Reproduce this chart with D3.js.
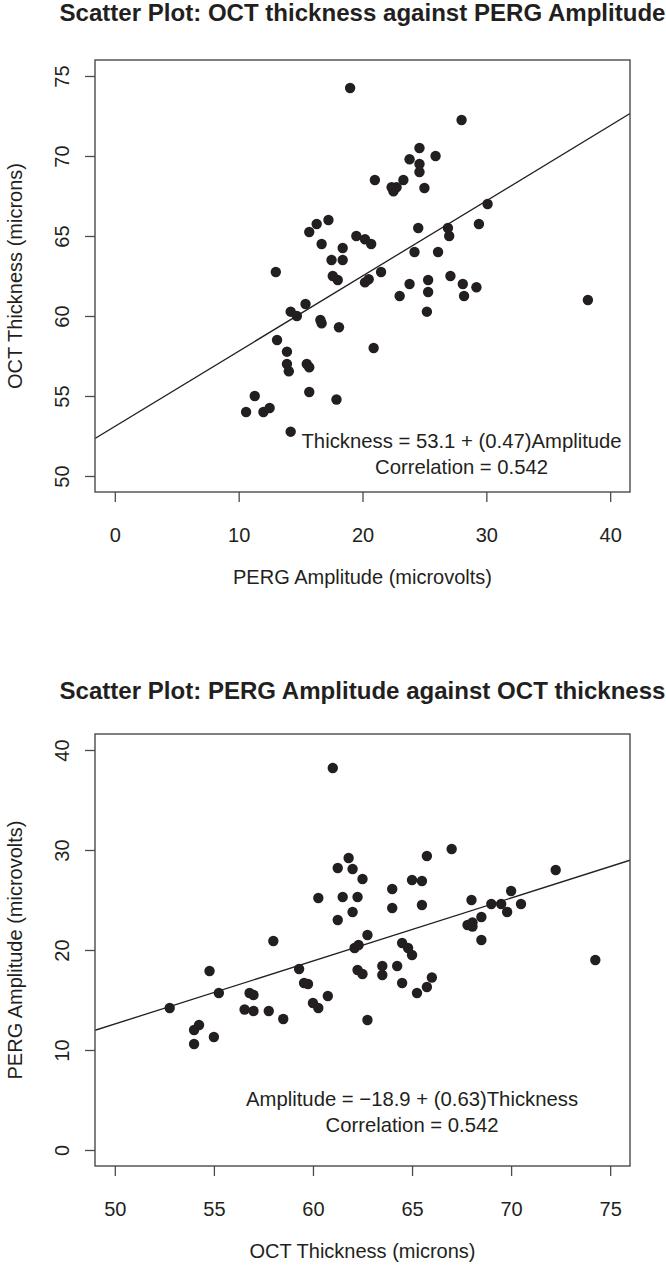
<!DOCTYPE html>
<html><head><meta charset="utf-8">
<script src="https://cdn.jsdelivr.net/npm/d3@7"></script>
<style>
body{margin:0;background:#fff}
svg{display:block}
text{font-family:"Liberation Sans",Arial,Helvetica,sans-serif;fill:#231f20}
</style>
</head><body>
<script>
// ---- data (PERG amplitude in microvolts, OCT thickness in microns), one entry per eye ----
const amplitude = [19.0,17.25,16.3,15.7,19.5,20.2,16.7,18.4,17.5,18.4,13.0,17.6,18.0,
  28.0,24.6,23.8,25.9,24.6,24.6,21.0,23.3,22.5,22.75,22.35,25.0,30.1,24.5,26.9,27.0,29.4,
  20.7,24.2,26.1,21.5,20.2,20.5,23.8,23.0,25.3,25.3,25.2,27.1,28.1,29.2,28.2,38.2,20.9,
  15.4,14.2,14.7,16.6,16.7,18.1,13.1,13.9,13.9,14.05,15.5,15.7,15.7,17.9,11.3,10.6,12.0,12.5,14.2];
const thickness = [74.25,66.0,65.75,65.25,65.0,64.8,64.5,64.25,63.5,63.5,62.75,62.5,62.25,
  72.25,70.5,69.8,70.0,69.5,69.0,68.5,68.5,67.8,68.05,68.05,68.0,67.0,65.5,65.5,65.0,65.75,
  64.5,64.0,64.0,62.75,62.1,62.3,62.0,61.25,62.25,61.5,60.27,62.5,62.0,61.8,61.25,61.0,58.0,
  60.75,60.27,60.0,59.75,59.55,59.3,58.5,57.77,57.0,56.55,57.0,56.8,55.25,54.78,55.0,54.0,54.0,54.25,52.77];

const ampTicks = [0,10,20,30,40];
const thickTicks = [50,55,60,65,70,75];
const ampLimits = [0,40];
const thickLimits = [50,75];

const fitThickOnAmp = {intercept:53.1, slope:0.47};
const fitAmpOnThick = {intercept:-18.9, slope:0.63};

const titles = ["Scatter Plot: OCT thickness against PERG Amplitude",
                "Scatter Plot: PERG Amplitude against OCT thickness"];
const ampLabel = "PERG Amplitude (microvolts)";
const thickLabel = "OCT Thickness (microns)";
const notesTop = ["Thickness = 53.1 + (0.47)Amplitude","Correlation = 0.542"];
const notesBottom = ["Amplitude = \u221218.9 + (0.63)Thickness","Correlation = 0.542"];

// ---- layout ----
const W = 666, H = 1265;
const svg = d3.select("body").append("svg").attr("width",W).attr("height",H);
const left = 95, right = 630, plotH = 432;
const ink = "#231f20", frame = "#4a4a4a";

function usr(lim){const d=(lim[1]-lim[0])*0.04;return [lim[0]-d,lim[1]+d];}

function panel(o){
  const g = svg.append("g");
  const top = o.top, bottom = o.top+plotH;
  const x = d3.scaleLinear().domain(usr(o.xlim)).range([left,right]);
  const y = d3.scaleLinear().domain(usr(o.ylim)).range([bottom,top]);
  const cid = "clip"+o.id;
  g.append("clipPath").attr("id",cid).append("rect")
    .attr("x",left).attr("y",top).attr("width",right-left).attr("height",plotH);

  // title
  g.append("text").attr("x",(left+right)/2).attr("y",o.titleY)
    .attr("text-anchor","middle").attr("font-weight","bold").attr("font-size",24)
    .attr("textLength",606).attr("lengthAdjust","spacingAndGlyphs").text(o.title);

  // axes
  const ax = g.append("g").attr("transform",`translate(0,${bottom})`)
    .call(d3.axisBottom(x).tickValues(o.xticks).tickSize(10).tickSizeOuter(0));
  ax.select(".domain").remove();
  ax.selectAll("line").attr("stroke",frame).attr("stroke-width",1.3);
  ax.selectAll("text").attr("y",50).attr("dy",0).attr("font-size",20).attr("fill",ink)
    .attr("font-family","Liberation Sans, Arial, sans-serif");

  const ay = g.append("g").attr("transform",`translate(${left},0)`)
    .call(d3.axisLeft(y).tickValues(o.yticks).tickSize(10).tickSizeOuter(0));
  ay.select(".domain").remove();
  ay.selectAll("line").attr("stroke",frame).attr("stroke-width",1.3);
  ay.selectAll("text").attr("transform","rotate(-90)").attr("x",0).attr("y",-26).attr("dy",0)
    .attr("text-anchor","middle").attr("font-size",20).attr("fill",ink)
    .attr("font-family","Liberation Sans, Arial, sans-serif");

  // axis titles
  g.append("text").attr("x",(left+right)/2).attr("y",bottom+92)
    .attr("text-anchor","middle").attr("font-size",20).text(o.xlabel);
  g.append("text").attr("transform",`translate(22,${(top+bottom)/2}) rotate(-90)`)
    .attr("text-anchor","middle").attr("font-size",20).text(o.ylabel);

  // points
  g.append("g").selectAll("circle").data(o.xs.map((v,i)=>[v,o.ys[i]])).join("circle")
    .attr("cx",d=>x(d[0])).attr("cy",d=>y(d[1])).attr("r",5.2).attr("fill",ink);

  // regression line
  const [x0,x1] = x.domain();
  g.append("line").attr("clip-path",`url(#${cid})`)
    .attr("x1",x(x0)).attr("y1",y(o.fit.intercept+o.fit.slope*x0))
    .attr("x2",x(x1)).attr("y2",y(o.fit.intercept+o.fit.slope*x1))
    .attr("stroke",ink).attr("stroke-width",1.3);

  // annotation
  o.notes.forEach((t,i)=>{
    g.append("text").attr("x",x(o.noteX)).attr("y",o.noteY+26*i)
      .attr("text-anchor","middle").attr("font-size",20.3).text(t);
  });

  // box
  g.append("rect").attr("x",left).attr("y",top).attr("width",right-left).attr("height",plotH)
    .attr("fill","none").attr("stroke",frame).attr("stroke-width",1.4);
}

panel({id:1, top:60, titleY:20.5, title:titles[0], xlim:ampLimits, ylim:thickLimits,
  xticks:ampTicks, yticks:thickTicks, xlabel:ampLabel, ylabel:thickLabel,
  xs:amplitude, ys:thickness, fit:fitThickOnAmp, notes:notesTop, noteX:28.0, noteY:448});
panel({id:2, top:734, titleY:699, title:titles[1], xlim:thickLimits, ylim:ampLimits,
  xticks:thickTicks, yticks:ampTicks, xlabel:thickLabel, ylabel:ampLabel,
  xs:thickness, ys:amplitude, fit:fitAmpOnThick, notes:notesBottom, noteX:65.0, noteY:1105.7});
</script>
</body></html>
